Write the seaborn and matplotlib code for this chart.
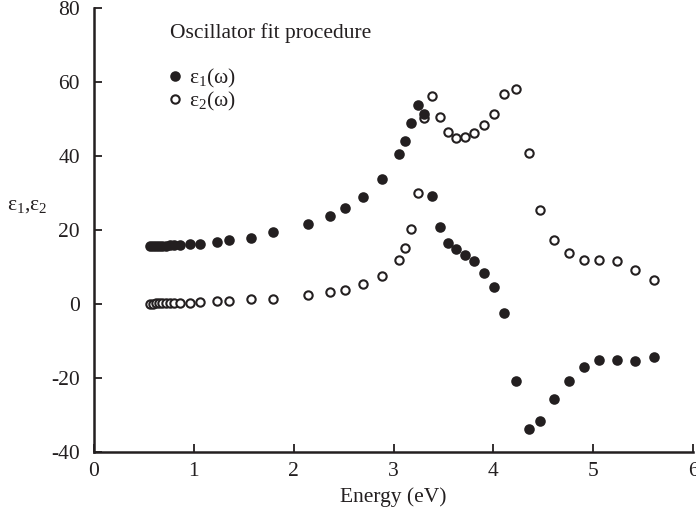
import matplotlib
matplotlib.use("Agg")
import matplotlib.pyplot as plt
import seaborn as sns
import pandas as pd
from matplotlib.lines import Line2D

energy = [0.56, 0.59, 0.62, 0.65, 0.68, 0.72, 0.76, 0.80, 0.86, 0.96, 1.06, 1.23,
          1.35, 1.57, 1.79, 2.14, 2.36, 2.51, 2.69, 2.88, 3.06, 3.12, 3.18, 3.25,
          3.31, 3.39, 3.47, 3.55, 3.63, 3.72, 3.81, 3.91, 4.01, 4.11, 4.23, 4.36,
          4.47, 4.61, 4.76, 4.91, 5.06, 5.24, 5.42, 5.61]
eps1 = [15.7, 15.7, 15.7, 15.8, 15.8, 15.8, 15.9, 15.9, 16.0, 16.1, 16.3, 16.8,
        17.3, 17.9, 19.4, 21.6, 23.9, 25.9, 29.0, 33.9, 40.6, 44.1, 48.8, 53.9,
        51.3, 29.1, 20.9, 16.4, 15.0, 13.2, 11.5, 8.3, 4.6, -2.5, -20.8, -33.7,
        -31.6, -25.8, -20.8, -16.9, -15.0, -15.0, -15.5, -14.3]
eps2 = [0.1, 0.1, 0.2, 0.2, 0.2, 0.3, 0.3, 0.3, 0.4, 0.4, 0.5, 0.8,
        0.9, 1.4, 1.4, 2.3, 3.2, 3.8, 5.4, 7.7, 12.0, 15.1, 20.2, 29.9,
        50.4, 56.2, 50.6, 46.5, 45.0, 45.1, 46.1, 48.3, 51.4, 56.8, 58.2, 40.7,
        25.3, 17.4, 13.8, 11.8, 12.0, 11.6, 9.3, 6.6]
x_ticks = [0, 1, 2, 3, 4, 5, 6]
y_ticks = [-40, -20, 0, 20, 40, 60, 80]
series_labels = ["ε$_1$(ω)", "ε$_2$(ω)"]
title_text = "Oscillator fit procedure"

sns.set_theme(style="ticks")
plt.rcParams["font.family"] = ["Liberation Serif", "DejaVu Serif"]
plt.rcParams["mathtext.fontset"] = "custom"
plt.rcParams["mathtext.rm"] = "Liberation Serif"
plt.rcParams["mathtext.it"] = "Liberation Serif:italic"
plt.rcParams["axes.unicode_minus"] = False

ink = "#231f20"
fs = 15.5

df = pd.DataFrame({"energy": energy, "eps1": eps1, "eps2": eps2})

fig = plt.figure(figsize=(6.96, 5.18), dpi=100)
ax = fig.add_axes([94 / 696, 1 - 452 / 518, 599 / 696, 444 / 518])

sns.scatterplot(data=df, x="energy", y="eps1", ax=ax, s=58, color=ink,
                edgecolor=ink, linewidth=0, zorder=3)
sns.scatterplot(data=df, x="energy", y="eps2", ax=ax, s=36, facecolor="white",
                edgecolor=ink, linewidth=1.5, zorder=2)

ax.set_xlim(0, 6)
ax.set_ylim(-40, 80)
ax.set_xticks(x_ticks)
ax.set_yticks(y_ticks)
ax.tick_params(direction="in", length=6, width=1.3, labelsize=fs, colors=ink)
ax.tick_params(axis="y", pad=10)
ax.tick_params(axis="x", pad=7)
for s in ["left", "bottom"]:
    ax.spines[s].set_linewidth(1.8)
    ax.spines[s].set_color(ink)
sns.despine(ax=ax)

ax.set_xlabel("Energy (eV)", fontsize=fs, color=ink, labelpad=5)
ax.set_ylabel("ε$_1$,ε$_2$", fontsize=fs, rotation=0, color=ink,
              ha="center", va="center")
ax.yaxis.set_label_coords(-0.112, 0.556)

ax.text(0.127, 0.944, title_text, transform=ax.transAxes, fontsize=fs,
        ha="left", va="center", color=ink)
handles = [
    Line2D([], [], linestyle="none", marker="o", markersize=7.6,
           markerfacecolor=ink, markeredgecolor=ink, markeredgewidth=0),
    Line2D([], [], linestyle="none", marker="o", markersize=6.0,
           markerfacecolor="white", markeredgecolor=ink, markeredgewidth=1.5),
]
ax.legend(handles, series_labels, loc="upper left", bbox_to_anchor=(0.118, 0.868),
          frameon=False, fontsize=fs, handletextpad=0.15, handlelength=1.0,
          labelspacing=0.0, borderpad=0, borderaxespad=0, labelcolor=ink)

fig.savefig("out.png", dpi=100)
